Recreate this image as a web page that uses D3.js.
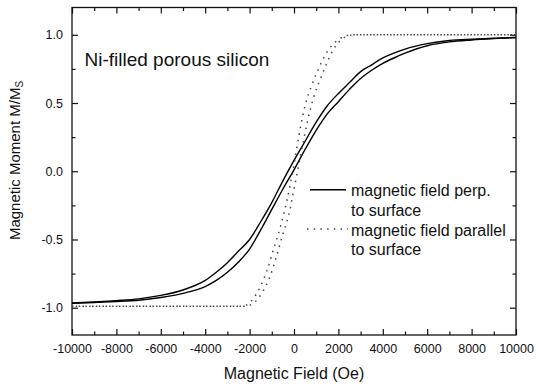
<!DOCTYPE html>
<html>
<head>
<meta charset="utf-8">
<script src="https://cdn.jsdelivr.net/npm/d3@7"></script>
<style>
  body { margin: 0; background: #fff; }
  svg text { font-family: Arial, "Liberation Sans", sans-serif; fill: #111; }
</style>
</head>
<body>
<div id="container"></div>
<script>
/* CONSTANTS AND GLOBALS */
const width = 536, height = 388;
const margin = { top: 7.5, right: 20, bottom: 53, left: 72 };

/* DATA */
// field values (Oe) for the perpendicular loop
const perpField = [-10000, -9000, -8000, -7000, -6000, -5000, -4000, -3500, -3000, -2500, -2000, -1500, -1000, -500, 0, 500, 1000, 1500, 2000, 2500, 3000, 3500, 4000, 4500, 5000, 6000, 7000, 8000, 9000, 10000];
// descending branch (upper/left curve)
const perpDown = [-0.965, -0.958, -0.948, -0.935, -0.91, -0.87, -0.80, -0.74, -0.67, -0.585, -0.50, -0.37, -0.23, -0.07, 0.08, 0.22, 0.36, 0.48, 0.57, 0.65, 0.73, 0.78, 0.83, 0.865, 0.895, 0.935, 0.958, 0.968, 0.975, 0.98];
// ascending branch (lower/right curve)
const perpUp = [-0.968, -0.962, -0.955, -0.945, -0.925, -0.895, -0.845, -0.80, -0.74, -0.665, -0.57, -0.43, -0.28, -0.13, 0.01, 0.16, 0.30, 0.42, 0.51, 0.60, 0.68, 0.74, 0.79, 0.83, 0.865, 0.92, 0.948, 0.962, 0.972, 0.98];

// parallel loop, descending branch
const parDownField = [-10000, -2400, -2200, -2000, -1800, -1500, -1200, -900, -600, -300, 0, 300, 500, 800, 1100, 1400, 1700, 2000, 2300, 2600, 10000];
const parDown = [-0.99, -0.99, -0.985, -0.965, -0.925, -0.84, -0.72, -0.56, -0.40, -0.20, 0.05, 0.33, 0.48, 0.63, 0.75, 0.85, 0.92, 0.965, 0.99, 1.0, 1.0];
// parallel loop, ascending branch
const parUpField = [-10000, -2200, -1900, -1600, -1400, -1100, -800, -500, -250, 0, 300, 600, 900, 1200, 1500, 1800, 2100, 2400, 2700, 10000];
const parUp = [-0.99, -0.99, -0.975, -0.93, -0.88, -0.78, -0.63, -0.46, -0.33, -0.13, 0.12, 0.36, 0.55, 0.68, 0.80, 0.90, 0.96, 0.99, 1.0, 1.0];

const xTicks = [-10000, -8000, -6000, -4000, -2000, 0, 2000, 4000, 6000, 8000, 10000];
const xMinor = [-9000, -7000, -5000, -3000, -1000, 1000, 3000, 5000, 7000, 9000];
const yTicks = [-1.0, -0.5, 0.0, 0.5, 1.0];
const yMinor = [-0.75, -0.25, 0.25, 0.75];

const legendLabels = [["magnetic field perp.", "to surface"], ["magnetic field parallel", "to surface"]];

/* SCALES */
const x = d3.scaleLinear().domain([-10000, 10000]).range([margin.left, width - margin.right]);
const y = d3.scaleLinear().domain([-1.2, 1.2]).range([height - margin.bottom, margin.top]);

const svg = d3.select("#container").append("svg")
  .attr("width", width)
  .attr("height", height);

/* AXES - ticks point inward on all four sides */
function addAxis(axis, transform, labels) {
  const g = svg.append("g").attr("transform", transform).call(axis);
  g.selectAll("text").style("font-size", "12.5px").style("font-family", "Arial, 'Liberation Sans', sans-serif").attr("fill", "#111");
  g.selectAll("line").attr("stroke", "#111").attr("stroke-width", 1.2);
  g.select(".domain").remove();
  if (!labels) g.selectAll("text").remove();
  return g;
}
const atBottom = `translate(0,${height - margin.bottom})`;
const atTop = `translate(0,${margin.top})`;
const atLeft = `translate(${margin.left},0)`;
const atRight = `translate(${width - margin.right},0)`;

// plain hyphen for negatives, as in the original
addAxis(d3.axisBottom(x).tickValues(xTicks).tickSize(-6).tickPadding(9).tickFormat(d => String(d)), atBottom, true);
addAxis(d3.axisBottom(x).tickValues(xMinor).tickSize(-3.5), atBottom, false);
addAxis(d3.axisTop(x).tickValues(xTicks).tickSize(-6), atTop, false);
addAxis(d3.axisTop(x).tickValues(xMinor).tickSize(-3.5), atTop, false);
addAxis(d3.axisLeft(y).tickValues(yTicks).tickSize(-6).tickPadding(9).tickFormat(d => d.toFixed(1)), atLeft, true);
addAxis(d3.axisLeft(y).tickValues(yMinor).tickSize(-3.5), atLeft, false);
addAxis(d3.axisRight(y).tickValues(yTicks).tickSize(-6), atRight, false);
addAxis(d3.axisRight(y).tickValues(yMinor).tickSize(-3.5), atRight, false);

// frame
svg.append("rect")
  .attr("x", x.range()[0]).attr("y", y.range()[1])
  .attr("width", x.range()[1] - x.range()[0])
  .attr("height", y.range()[0] - y.range()[1])
  .attr("fill", "none").attr("stroke", "#111").attr("stroke-width", 1.3);

/* CURVES */
const line = d3.line().x(d => x(d[0])).y(d => y(d[1])).curve(d3.curveMonotoneX);
const zip = (hs, ms) => hs.map((h, i) => [h, ms[i]]);

[perpDown, perpUp].forEach(ms => {
  svg.append("path").datum(zip(perpField, ms))
    .attr("d", line).attr("fill", "none")
    .attr("stroke", "#000").attr("stroke-width", 1.4);
});
[[parDownField, parDown], [parUpField, parUp]].forEach(([hs, ms], i) => {
  svg.append("path").datum(zip(hs, ms))
    .attr("d", line).attr("fill", "none")
    .attr("stroke", "#444").attr("stroke-width", 1.5)
    .attr("stroke-dasharray", "1.5,5.2")
    .attr("stroke-dashoffset", i * 3);
});

/* TEXT */
svg.append("text").attr("x", 84.5).attr("y", 65.5).style("font-size", "19px").text("Ni-filled porous silicon");

svg.append("text").attr("x", (x.range()[0] + x.range()[1]) / 2).attr("y", 378.5)
  .attr("text-anchor", "middle").style("font-size", "16px").text("Magnetic Field (Oe)");

const yt = svg.append("text").attr("transform", "translate(20,160.5) rotate(-90)")
  .attr("text-anchor", "middle").style("font-size", "15px");
yt.append("tspan").text("Magnetic Moment M/M");
yt.append("tspan").attr("dy", 3.3).style("font-size", "10px").text("S");

/* LEGEND */
const legend = svg.append("g");
legend.append("line").attr("x1", 310).attr("x2", 346).attr("y1", 189.7).attr("y2", 189.7)
  .attr("stroke", "#000").attr("stroke-width", 1.4);
legend.append("line").attr("x1", 307).attr("x2", 348).attr("y1", 229).attr("y2", 229)
  .attr("stroke", "#444").attr("stroke-width", 1.5).attr("stroke-dasharray", "1.5,5.2");
const baselines = [[196, 216], [235.7, 255.3]];
legendLabels.forEach((lines, i) => {
  lines.forEach((t, j) => {
    legend.append("text").attr("x", 351).attr("y", baselines[i][j]).style("font-size", "16px").text(t);
  });
});
</script>
</body>
</html>
